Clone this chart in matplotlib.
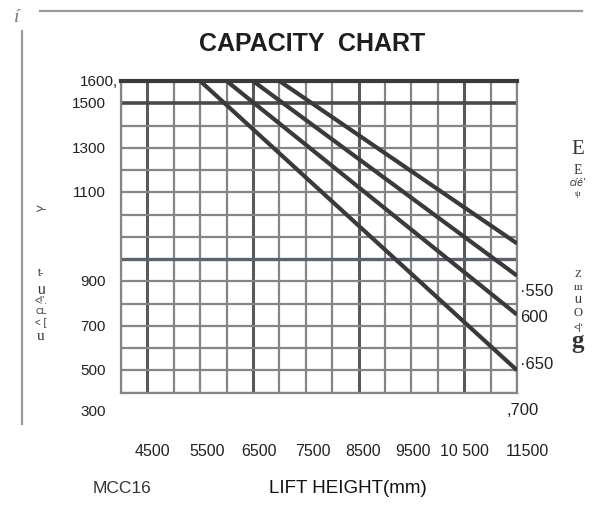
import numpy as np
import matplotlib
matplotlib.use("Agg")
import matplotlib.pyplot as plt
import matplotlib.transforms as mtransforms

# ---------------- data ----------------
lift_heights = [4000, 11500]                     # x range of chart (mm)
curve_start_x = [5500, 6000, 6500, 7000]         # lift height where capacity begins to drop
curve_start_y = [1600, 1600, 1600, 1600]
curve_end_x = [11500, 11500, 11500, 11500]
curve_end_y = [300, 550, 725, 870]

x_tick_values = [4500, 5500, 6500, 7500, 8500, 9500, 10500, 11500]
x_tick_labels = ["4500", "5500", "6500", "7500", "8500", "9500", "10 500", "11500"]

y_tick_values = [1600, 1500, 1300, 1100, 700, 500, 300, 115]
y_tick_labels = ["1600,", "1500", "1300", "1100", "900", "700", "500", "300"]

right_label_values = [658, 541, 330, 124]
right_labels = ["·550", "600", "·650", ",700"]

W, H = 595, 506
fig = plt.figure(figsize=(W / 100, H / 100), dpi=100)
fig.patch.set_facecolor("white")

def fx(x):
    return x / W

def fy(y):
    return 1 - y / H

ax = fig.add_axes([fx(121), fy(393.5), fx(517) - fx(121), fy(82) - fy(393.5)])
ax.set_xlim(lift_heights[0], lift_heights[1])
ax.set_ylim(200, 1600)
ax.set_facecolor("white")

# grid
thin_c, thick_c = "#858585", "#595959"
for i, xv in enumerate(np.arange(4000, 11501, 500)):
    if i in (1, 5, 9, 13):
        ax.axvline(xv, color=thick_c, lw=2.2, zorder=1)
    else:
        ax.axvline(xv, color=thin_c, lw=1.6, zorder=1)
for j, yv in enumerate(np.arange(1600, 199, -100)):
    if j == 0:
        continue
    if j == 1:
        ax.axhline(yv, color="#4a4a4a", lw=2.6, zorder=1)
    elif j == 8:
        ax.axhline(yv, color="#5c6272", lw=2.4, zorder=1)
    else:
        ax.axhline(yv, color=thin_c, lw=1.6, zorder=1)

for s in ("left", "right", "bottom"):
    ax.spines[s].set_color(thin_c)
    ax.spines[s].set_linewidth(1.6)
ax.spines["top"].set_color("#3a3a3a")
ax.spines["top"].set_linewidth(3.0)

# capacity curves
for x0, y0, x1, y1 in zip(curve_start_x, curve_start_y, curve_end_x, curve_end_y):
    ax.plot([x0, x1], [y0, y1], color="#3a3a3a", lw=3.0, solid_capstyle="butt", zorder=3)

# ticks
ax.set_xticks([])
ax.set_yticks([])
sans = ["Liberation Sans", "DejaVu Sans"]
x_label_shift_px = [5, 7, 6, 7, 4, 2, 0, 10]
x_label_y = -(452 - 393.5) / (393.5 - 82)
for v, lab, sh in zip(x_tick_values, x_tick_labels, x_label_shift_px):
    off = mtransforms.ScaledTranslation(sh / 100, 0, fig.dpi_scale_trans)
    ax.text(v, x_label_y, lab, transform=ax.get_xaxis_transform() + off,
            ha="center", va="center", fontsize=11.5, family=sans, color="#222222", clip_on=False)

yt = ax.get_yaxis_transform()
for v, lab in zip(y_tick_values, y_tick_labels):
    xpos = -15 / 396 if not lab.endswith(",") else -3 / 396
    ax.text(xpos, v, lab, transform=yt, ha="right", va="center", fontsize=11,
            family=sans, color="#222222", clip_on=False)

for v, lab in zip(right_label_values, right_labels):
    xpos = 1 + (3 if not lab.startswith(",") else -10) / 396
    ax.text(xpos, v, lab, transform=yt, ha="left", va="center", fontsize=12,
            family=sans, color="#222222", clip_on=False)

# title and frame decoration
fig.text(fx(312), fy(44), "CAPACITY  CHART", ha="center", va="center", fontsize=18,
         fontweight="bold", family=["Liberation Sans Narrow", "Liberation Sans", "DejaVu Sans"],
         color="#1e1e1e")
fig.add_artist(plt.Line2D([fx(40), fx(582)], [fy(12), fy(12)], color="#9a9a9a", lw=1.6))
fig.add_artist(plt.Line2D([fx(22), fx(22)], [fy(32), fy(425)], color="#9a9a9a", lw=1.6))
fig.text(fx(17), fy(18), "í", ha="center", va="center", fontsize=14, style="italic",
         family=["Liberation Serif", "DejaVu Serif"], color="#777777")

# bottom texts
fig.text(fx(122), fy(489), "MCC16", ha="center", va="center", fontsize=12.5, family=sans, color="#333333")
fig.text(fx(348), fy(489), "LIFT HEIGHT(mm)", ha="center", va="center", fontsize=13.5,
         family=sans, color="#111111")

# garbled rotated axis text (left)
serif = ["Liberation Serif", "DejaVu Serif"]
left_bits = [(">-", 210, 9, sans), ("t-", 273, 7.5, sans), ("u", 290, 10, sans),
             ("<!'.", 301, 7, sans), ("CL", 311, 6.5, sans), ("< [", 323, 7, sans),
             ("u", 336, 11, serif)]
for t, yy, fs, fam in left_bits:
    fig.text(fx(41), fy(yy), t, ha="center", va="center", fontsize=fs, family=fam, color="#333333")

# garbled rotated axis text (right)
right_bits = [("E", 150, 15, serif, "normal", "normal"), ("E", 171, 10, serif, "normal", "normal"),
              ("cíé'", 183, 7.5, sans, "italic", "normal"), ("ψ", 194, 6.5, serif, "normal", "normal"),
              ("Z", 275, 8, serif, "normal", "normal"), ("ш", 288, 8, serif, "normal", "normal"),
              ("u", 300, 9, sans, "normal", "normal"), ("O", 313, 9, serif, "normal", "normal"),
              ("<|'", 327, 6.5, sans, "normal", "normal"), ("g", 342, 18, serif, "normal", "bold")]
for t, yy, fs, fam, st, fw in right_bits:
    fig.text(fx(578), fy(yy), t, ha="center", va="center", fontsize=fs, family=fam,
             style=st, fontweight=fw, color="#333333")

fig.savefig("out.png", dpi=100, facecolor="white")
